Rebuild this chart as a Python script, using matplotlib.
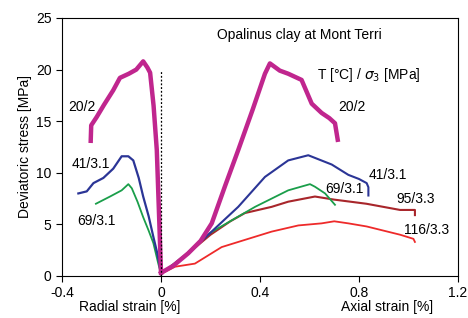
import matplotlib.pyplot as plt

plt.rcParams['font.family'] = ['Liberation Sans', 'DejaVu Sans']

# Curvas (deformação em %, tensão desviadora em MPa)
# 20 °C / 2 MPa
x_20_rad = [-0.284, -0.282, -0.26, -0.23, -0.193, -0.166, -0.13, -0.10, -0.072, -0.055, -0.044, -0.03, -0.017, -0.008, 0.0]
y_20_rad = [13.1, 14.6, 15.4, 16.6, 18.0, 19.2, 19.6, 20.0, 20.8, 20.2, 19.7, 16.5, 12.2, 6.0, 0.3]
x_20_ax = [0.0, 0.05, 0.11, 0.16, 0.205, 0.26, 0.312, 0.37, 0.42, 0.44, 0.48, 0.514, 0.568, 0.609, 0.649, 0.68, 0.703, 0.714]
y_20_ax = [0.3, 1.0, 2.2, 3.4, 5.1, 8.8, 12.2, 16.1, 19.6, 20.6, 19.9, 19.6, 19.0, 16.7, 15.8, 15.3, 14.8, 13.2]

# 41 °C / 3.1 MPa
x_41_rad = [-0.334, -0.30, -0.273, -0.233, -0.193, -0.159, -0.132, -0.112, -0.09, -0.072, -0.05, -0.031, -0.015, -0.007, 0.0]
y_41_rad = [8.0, 8.2, 9.0, 9.5, 10.4, 11.6, 11.6, 11.2, 9.5, 7.7, 5.8, 3.8, 2.2, 1.2, 0.2]
x_41_ax = [0.0, 0.1, 0.2, 0.312, 0.42, 0.514, 0.595, 0.69, 0.757, 0.80, 0.831, 0.838, 0.838]
y_41_ax = [0.2, 2.0, 4.2, 6.7, 9.6, 11.2, 11.7, 10.8, 9.8, 9.4, 9.0, 8.6, 7.8]

# 69 °C / 3.1 MPa
x_69_rad = [-0.263, -0.206, -0.159, -0.132, -0.118, -0.095, -0.072, -0.05, -0.031, -0.011, 0.0]
y_69_rad = [7.0, 7.7, 8.3, 8.9, 8.5, 7.2, 5.7, 4.4, 3.2, 1.2, 0.2]
x_69_ax = [0.0, 0.1, 0.2, 0.38, 0.514, 0.602, 0.622, 0.663, 0.703]
y_69_ax = [0.2, 2.1, 4.2, 6.7, 8.3, 8.9, 8.65, 8.0, 6.9]

# 95 °C / 3.3 MPa
x_95_ax = [0.0, 0.1, 0.2, 0.28, 0.339, 0.447, 0.514, 0.622, 0.70, 0.83, 0.966, 1.026, 1.026]
y_95_ax = [0.2, 2.0, 4.0, 5.3, 6.1, 6.7, 7.2, 7.7, 7.4, 7.0, 6.4, 6.4, 5.9]

# 116 °C / 3.3 MPa
x_116_ax = [0.0, 0.057, 0.137, 0.245, 0.339, 0.447, 0.555, 0.649, 0.70, 0.757, 0.831, 0.966, 1.02, 1.026]
y_116_ax = [0.2, 0.9, 1.2, 2.8, 3.5, 4.3, 4.9, 5.1, 5.3, 5.1, 4.8, 4.0, 3.6, 3.3]

# Rótulos das curvas: (texto, x, y)
rotulos = [
    ("20/2", -0.376, 16.4), ("20/2", 0.715, 16.4),
    ("41/3.1", -0.36, 10.9), ("41/3.1", 0.84, 9.8),
    ("69/3.1", -0.34, 5.3), ("69/3.1", 0.663, 8.4),
    ("95/3.3", 0.953, 7.5), ("116/3.3", 0.98, 4.5),
]

cor_20 = "#c0268e"
cor_41 = "#2b3596"
cor_69 = "#1a9e4a"
cor_95 = "#a8262b"
cor_116 = "#ee2a2a"

fig = plt.figure(figsize=(4.68, 3.18), dpi=100)
ax = fig.add_axes([0.1325, 0.1321, 0.8461, 0.8113])

# Séries de dados
ax.plot(x_116_ax, y_116_ax, color=cor_116, lw=1.3)
ax.plot(x_95_ax, y_95_ax, color=cor_95, lw=1.5)
ax.plot(x_69_rad, y_69_rad, color=cor_69, lw=1.3)
ax.plot(x_69_ax, y_69_ax, color=cor_69, lw=1.3)
ax.plot(x_41_rad, y_41_rad, color=cor_41, lw=1.6)
ax.plot(x_41_ax, y_41_ax, color=cor_41, lw=1.5)
ax.plot(x_20_rad, y_20_rad, color=cor_20, lw=3.2)
ax.plot(x_20_ax, y_20_ax, color=cor_20, lw=3.2)

# Linha vertical pontilhada em zero
ax.vlines(0, 0, 20, colors="k", linestyles=(0, (1.5, 1.5)), lw=0.9)

# Rótulos
for texto, xr, yr in rotulos:
    ax.text(xr, yr, texto, fontsize=10, va="center", ha="left")

ax.text(0.226, 23.4, "Opalinus clay at Mont Terri", fontsize=10, va="center", ha="left")
ax.text(0.63, 19.5, r"T [°C] / $\sigma_3$ [MPa]", fontsize=10, va="center", ha="left")

# Eixos
ax.set_xlim(-0.4, 1.2)
ax.set_ylim(0, 25)
ax.set_xticks([-0.4, 0, 0.4, 0.8, 1.2])
ax.set_xticklabels(["-0.4", "0", "0.4", "0.8", "1.2"])
ax.set_yticks([0, 5, 10, 15, 20, 25])
ax.tick_params(labelsize=10, direction="out", length=4, width=0.8)
for s in ax.spines.values():
    s.set_linewidth(0.8)
ax.set_ylabel("Deviatoric stress [MPa]", fontsize=10, labelpad=3)

fig.text(130 / 468, 1 - 307 / 318, "Radial strain [%]", fontsize=10, ha="center", va="center")
fig.text(387.5 / 468, 1 - 307 / 318, "Axial strain [%]", fontsize=10, ha="center", va="center")

plt.savefig("out.png", dpi=100)
plt.close()
